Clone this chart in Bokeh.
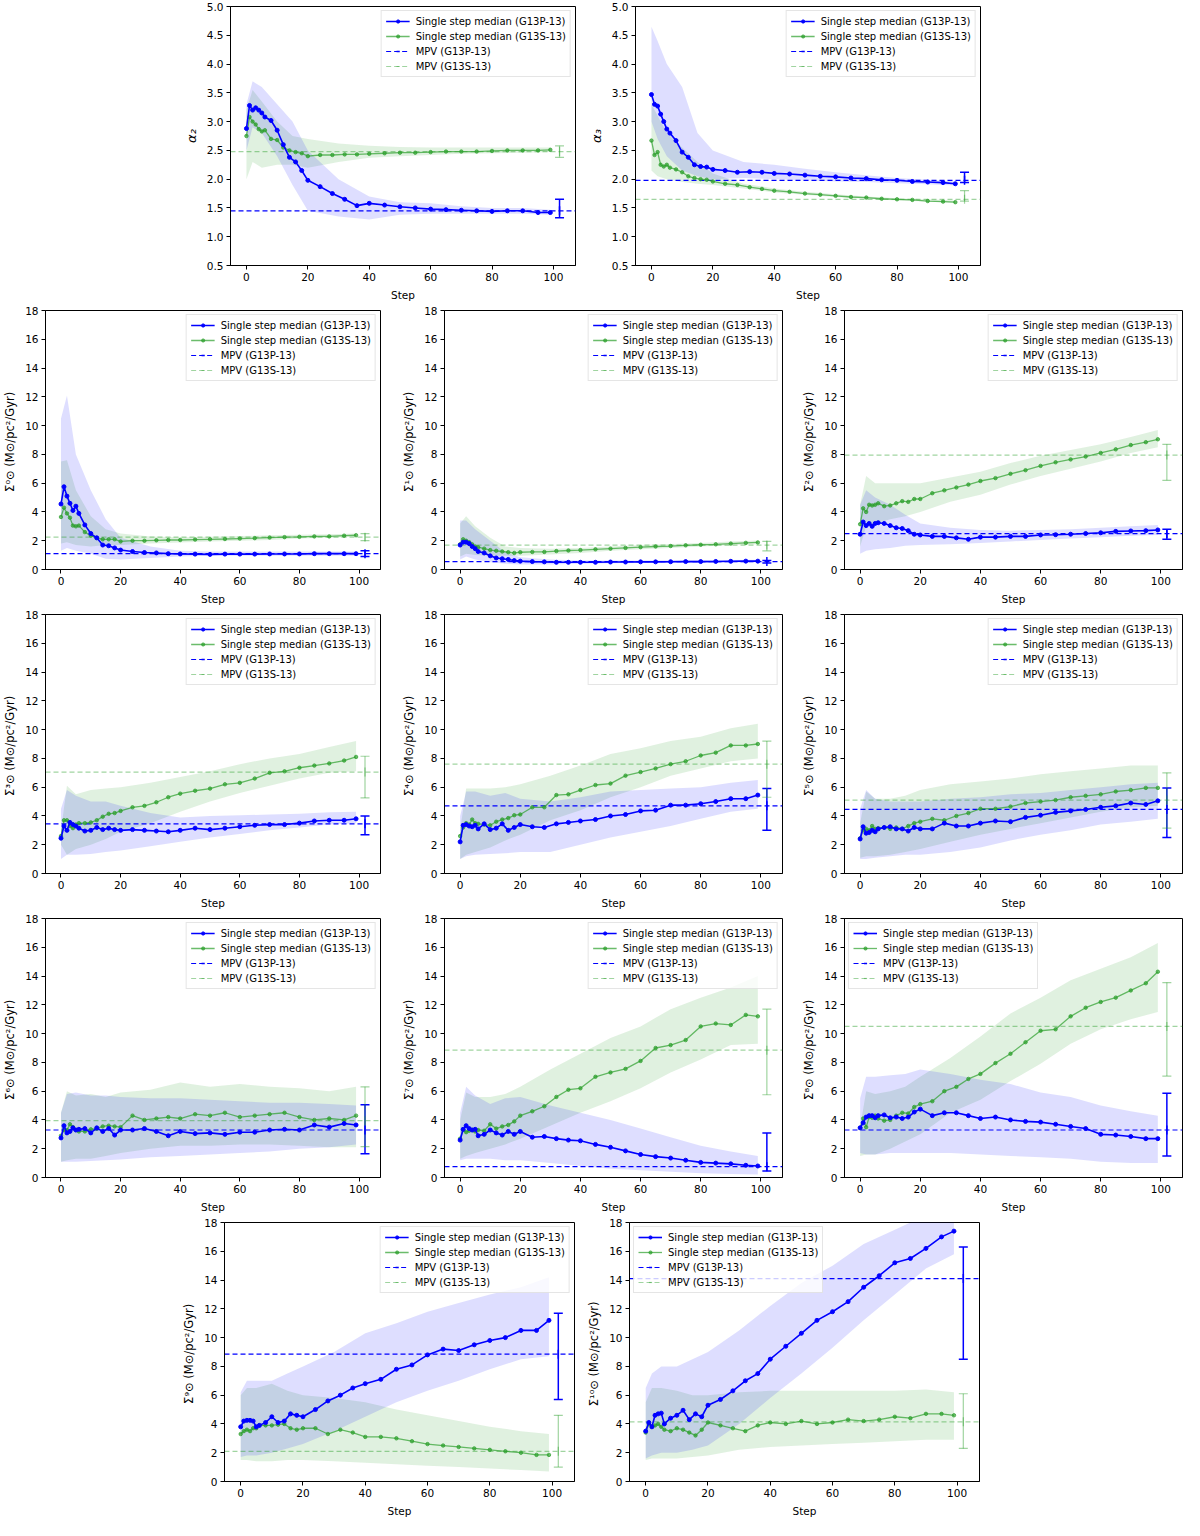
import math
from bokeh.plotting import figure
from bokeh.models import (Range1d, FixedTicker, PrintfTickFormatter, Legend, LegendItem,
                          Whisker, TeeHead, ColumnDataSource, Spacer)
from bokeh.layouts import row, column
from bokeh.embed import file_html
from bokeh.resources import INLINE

# steps at which the medians are read, and the coarser steps for the bands
STEPS = [0, 1, 2, 3, 4, 5, 6, 8, 10, 12, 14, 16, 18, 20, 24, 28, 32, 36, 40, 45,
         50, 55, 60, 65, 70, 75, 80, 85, 90, 95, 99]
BAND_STEPS = [0, 2, 5, 10, 15, 20, 30, 40, 50, 60, 70, 80, 90, 99]
X_TICKS = [0, 20, 40, 60, 80, 100]
ALPHA_TICKS = [0.5, 1.0, 1.5, 2.0, 2.5, 3.0, 3.5, 4.0, 4.5, 5.0]
SIGMA_TICKS = [0, 2, 4, 6, 8, 10, 12, 14, 16, 18]

# alpha_2
A2_P_MED = [2.88, 3.28, 3.20, 3.24, 3.20, 3.15, 3.08, 3.02, 2.85, 2.60, 2.38, 2.30, 2.15, 1.98, 1.87, 1.75,
            1.65, 1.54, 1.58, 1.55, 1.52, 1.50, 1.48, 1.47, 1.46, 1.45, 1.44, 1.45, 1.45, 1.42, 1.42]
A2_P_LO = [2.5, 2.9, 2.8, 2.4, 1.9, 1.45, 1.35, 1.3, 1.38, 1.4, 1.4, 1.4, 1.4, 1.38]
A2_P_HI = [3.3, 3.7, 3.6, 3.3, 3.0, 2.5, 2.0, 1.7, 1.6, 1.58, 1.53, 1.5, 1.5, 1.47]
A2_S_MED = [2.75, 3.08, 3.00, 2.95, 2.87, 2.83, 2.85, 2.70, 2.68, 2.55, 2.50, 2.47, 2.45, 2.40, 2.42, 2.42,
            2.43, 2.43, 2.44, 2.45, 2.46, 2.46, 2.47, 2.48, 2.48, 2.48, 2.49, 2.50, 2.50, 2.50, 2.51]
A2_S_LO = [2.0, 2.3, 2.2, 2.25, 2.25, 2.2, 2.3, 2.37, 2.4, 2.42, 2.44, 2.45, 2.46, 2.47]
A2_S_HI = [3.2, 3.55, 3.35, 3.0, 2.75, 2.7, 2.62, 2.58, 2.56, 2.55, 2.55, 2.55, 2.55, 2.55]

# alpha_3
A3_P_MED = [3.47, 3.30, 3.27, 3.13, 3.00, 2.87, 2.80, 2.67, 2.47, 2.38, 2.25, 2.22, 2.21, 2.17, 2.15, 2.12,
            2.13, 2.12, 2.10, 2.09, 2.07, 2.05, 2.04, 2.02, 2.01, 1.99, 1.98, 1.96, 1.95, 1.94, 1.92]
A3_P_LO = [3.0, 2.7, 2.4, 2.15, 2.05, 2.0, 2.02, 2.0, 1.98, 1.96, 1.95, 1.93, 1.91, 1.89]
A3_P_HI = [4.65, 4.4, 4.0, 3.6, 2.8, 2.5, 2.3, 2.25, 2.18, 2.12, 2.07, 2.02, 1.99, 1.96]
A3_S_MED = [2.67, 2.42, 2.47, 2.25, 2.22, 2.25, 2.20, 2.17, 2.12, 2.05, 2.02, 2.00, 1.99, 1.96, 1.92, 1.90,
            1.86, 1.83, 1.80, 1.78, 1.75, 1.73, 1.71, 1.69, 1.68, 1.66, 1.65, 1.64, 1.62, 1.61, 1.60]
A3_S_LO = [2.15, 2.05, 2.0, 1.95, 1.92, 1.9, 1.84, 1.77, 1.73, 1.69, 1.66, 1.63, 1.61, 1.59]
A3_S_HI = [3.3, 3.1, 2.8, 2.55, 2.3, 2.1, 1.92, 1.84, 1.78, 1.74, 1.7, 1.67, 1.65, 1.63]

# Sigma 0
S0_P_MED = [4.55, 5.75, 5.10, 4.60, 4.10, 4.40, 3.90, 3.10, 2.50, 2.20, 1.70, 1.65, 1.50, 1.35, 1.25, 1.18,
            1.15, 1.10, 1.08, 1.07, 1.05, 1.07, 1.07, 1.07, 1.08, 1.08, 1.08, 1.10, 1.10, 1.10, 1.10]
S0_P_LO = [1.3, 1.5, 1.3, 1.1, 0.75, 0.7, 0.8, 0.9, 0.95, 0.95, 0.95, 0.95, 0.95, 0.95]
S0_P_HI = [10.5, 12.1, 8.0, 5.5, 3.5, 2.2, 1.6, 1.3, 1.25, 1.25, 1.25, 1.25, 1.25, 1.25]
S0_S_MED = [3.65, 4.30, 3.90, 3.60, 3.05, 3.00, 3.05, 2.60, 2.35, 2.20, 2.10, 2.10, 2.10, 1.95, 2.00, 2.00,
            2.03, 2.05, 2.05, 2.08, 2.10, 2.12, 2.15, 2.18, 2.22, 2.25, 2.27, 2.30, 2.30, 2.35, 2.38]
S0_S_LO = [1.8, 1.9, 1.7, 1.6, 1.7, 1.7, 1.8, 1.88, 1.95, 2.0, 2.05, 2.15, 2.2, 2.27]
S0_S_HI = [7.5, 7.6, 5.5, 3.7, 2.8, 2.5, 2.3, 2.25, 2.28, 2.32, 2.38, 2.42, 2.45, 2.5]

# Sigma 1
S1_P_MED = [1.70, 1.90, 1.90, 1.80, 1.60, 1.45, 1.25, 1.15, 0.95, 0.80, 0.75, 0.70, 0.62, 0.58, 0.55, 0.53,
            0.50, 0.50, 0.50, 0.50, 0.52, 0.52, 0.53, 0.53, 0.54, 0.55, 0.55, 0.56, 0.57, 0.58, 0.58]
S1_P_LO = [0.7, 0.9, 0.7, 0.5, 0.4, 0.35, 0.35, 0.4, 0.43, 0.45, 0.46, 0.47, 0.48, 0.5]
S1_P_HI = [3.4, 3.4, 2.8, 2.0, 1.2, 0.85, 0.7, 0.62, 0.62, 0.63, 0.64, 0.65, 0.66, 0.67]
S1_S_MED = [1.75, 2.10, 2.00, 1.90, 1.75, 1.60, 1.55, 1.45, 1.35, 1.30, 1.25, 1.20, 1.15, 1.20, 1.22, 1.22,
            1.28, 1.32, 1.35, 1.40, 1.45, 1.50, 1.55, 1.60, 1.63, 1.68, 1.72, 1.75, 1.80, 1.85, 1.88]
S1_S_LO = [0.9, 1.1, 1.0, 0.95, 0.95, 0.95, 1.05, 1.15, 1.3, 1.4, 1.5, 1.6, 1.68, 1.75]
S1_S_HI = [3.2, 3.7, 3.0, 2.2, 1.6, 1.5, 1.45, 1.5, 1.6, 1.7, 1.78, 1.85, 1.95, 2.02]

# Sigma 2
S2_P_MED = [2.45, 3.30, 3.05, 3.20, 3.00, 3.20, 3.25, 3.20, 3.05, 2.90, 2.85, 2.70, 2.45, 2.40, 2.30, 2.30,
            2.20, 2.10, 2.25, 2.25, 2.30, 2.30, 2.40, 2.42, 2.45, 2.50, 2.55, 2.65, 2.68, 2.70, 2.75]
S2_P_LO = [1.1, 1.3, 1.4, 1.5, 1.65, 1.7, 1.75, 1.85, 1.95, 2.05, 2.15, 2.25, 2.35, 2.4]
S2_P_HI = [4.5, 5.5, 5.0, 4.5, 3.8, 3.2, 2.9, 2.75, 2.7, 2.75, 2.8, 2.9, 3.0, 3.1]
S2_S_MED = [3.15, 4.25, 4.00, 4.50, 4.45, 4.50, 4.60, 4.40, 4.45, 4.60, 4.75, 4.70, 4.90, 4.90, 5.30, 5.50,
            5.70, 5.90, 6.15, 6.35, 6.65, 6.90, 7.20, 7.45, 7.65, 7.85, 8.10, 8.35, 8.65, 8.85, 9.05]
S2_S_LO = [1.6, 3.0, 3.2, 3.5, 3.7, 4.0, 4.7, 5.2, 5.9, 6.5, 7.0, 7.5, 8.1, 8.5]
S2_S_HI = [4.5, 6.5, 6.0, 6.0, 6.0, 6.0, 6.4, 6.8, 7.4, 7.9, 8.3, 8.7, 9.2, 9.7]

# Sigma 3
S3_P_MED = [2.45, 3.30, 3.00, 3.55, 3.40, 3.30, 3.15, 2.95, 3.00, 3.20, 3.05, 3.15, 3.05, 3.00, 3.05, 3.00,
            2.95, 2.90, 3.00, 3.15, 3.05, 3.15, 3.25, 3.35, 3.40, 3.40, 3.50, 3.65, 3.70, 3.70, 3.80]
S3_P_LO = [1.0, 1.3, 1.3, 1.35, 1.5, 1.6, 1.9, 2.2, 2.5, 2.75, 3.0, 3.2, 3.4, 3.5]
S3_P_HI = [4.5, 5.8, 5.4, 5.0, 5.0, 4.7, 4.2, 3.9, 4.0, 4.05, 4.1, 4.15, 4.25, 4.3]
S3_S_MED = [2.60, 3.70, 3.70, 3.30, 3.15, 3.40, 3.50, 3.50, 3.55, 3.70, 3.95, 4.15, 4.20, 4.35, 4.60, 4.70,
            4.95, 5.30, 5.55, 5.75, 5.90, 6.20, 6.30, 6.60, 7.00, 7.10, 7.35, 7.50, 7.65, 7.85, 8.10]
S3_S_LO = [2.0, 1.3, 1.7, 2.0, 2.4, 2.9, 3.5, 4.3, 5.0, 5.6, 6.1, 6.6, 7.0, 7.1]
S3_S_HI = [3.0, 6.1, 5.5, 5.8, 5.9, 6.0, 6.3, 6.7, 7.1, 7.6, 8.0, 8.3, 8.8, 9.2]

# Sigma 4
S4_P_MED = [2.20, 3.35, 3.40, 3.30, 3.25, 3.35, 3.10, 3.45, 3.05, 3.15, 3.45, 3.00, 3.20, 3.40, 3.25, 3.20,
            3.45, 3.55, 3.65, 3.75, 4.00, 4.10, 4.35, 4.40, 4.75, 4.75, 4.85, 5.00, 5.20, 5.20, 5.45]
S4_P_LO = [1.0, 1.2, 1.3, 1.35, 1.4, 1.5, 1.5, 2.0, 2.5, 2.9, 3.3, 3.8, 4.3, 4.5]
S4_P_HI = [4.0, 5.7, 5.7, 5.4, 5.6, 5.2, 5.0, 5.3, 5.7, 5.8, 5.9, 6.0, 6.3, 6.5]
S4_S_MED = [2.60, 3.20, 3.50, 3.40, 3.75, 3.50, 3.45, 3.40, 3.35, 3.60, 3.75, 3.85, 4.05, 4.10, 4.60, 4.60,
            5.45, 5.50, 5.80, 6.15, 6.25, 6.80, 7.05, 7.30, 7.60, 7.80, 8.20, 8.40, 8.90, 8.90, 9.00]
S4_S_LO = [1.0, 1.3, 1.5, 1.8, 2.3, 2.7, 3.7, 4.4, 5.3, 6.0, 6.8, 7.3, 7.8, 8.0]
S4_S_HI = [3.0, 5.9, 5.9, 5.9, 6.0, 6.2, 6.8, 7.5, 8.3, 8.7, 9.2, 9.5, 10.1, 10.4]

# Sigma 5
S5_P_MED = [2.40, 3.25, 2.80, 2.85, 3.00, 2.90, 3.10, 3.20, 3.25, 3.10, 3.10, 2.95, 3.20, 3.10, 3.10, 3.50,
            3.30, 3.30, 3.50, 3.65, 3.60, 3.90, 4.05, 4.25, 4.35, 4.45, 4.60, 4.70, 4.90, 4.80, 5.05]
S5_P_LO = [1.0, 1.0, 1.1, 1.2, 1.3, 1.3, 1.5, 1.8, 2.3, 2.7, 3.0, 3.4, 3.6, 3.8]
S5_P_HI = [4.5, 5.8, 5.2, 5.0, 5.0, 5.0, 5.2, 5.3, 5.5, 5.6, 5.8, 6.0, 6.2, 6.3]
S5_S_MED = [2.45, 3.00, 3.10, 3.00, 3.30, 3.10, 3.15, 3.20, 3.10, 3.20, 3.10, 3.30, 3.50, 3.60, 3.80, 3.70,
            4.00, 4.20, 4.50, 4.50, 4.65, 4.90, 5.00, 5.10, 5.30, 5.40, 5.50, 5.70, 5.80, 5.95, 5.95]
S5_S_LO = [1.1, 1.2, 1.2, 1.3, 1.5, 1.7, 2.2, 2.7, 3.1, 3.5, 3.9, 4.3, 4.6, 4.7]
S5_S_HI = [3.5, 5.7, 5.2, 5.2, 5.4, 5.8, 6.2, 6.4, 6.6, 6.9, 7.1, 7.3, 7.5, 7.5]

# Sigma 6
S6_P_MED = [2.75, 3.60, 3.10, 3.20, 3.45, 3.30, 3.35, 3.40, 3.10, 3.45, 3.20, 3.40, 2.95, 3.30, 3.30, 3.40,
            3.20, 2.90, 3.20, 3.05, 3.10, 3.00, 3.15, 3.15, 3.30, 3.35, 3.30, 3.65, 3.50, 3.75, 3.65]
S6_P_LO = [1.1, 1.1, 1.1, 1.15, 1.2, 1.25, 1.4, 1.5, 1.6, 1.7, 1.8, 2.0, 2.1, 2.3]
S6_P_HI = [4.5, 5.8, 5.9, 5.7, 5.7, 5.6, 5.5, 5.5, 5.4, 5.3, 5.2, 5.2, 5.1, 5.0]
S6_S_MED = [2.90, 3.30, 3.30, 3.70, 3.50, 3.30, 3.20, 3.20, 3.35, 3.40, 3.55, 3.60, 3.55, 3.50, 4.30, 4.00,
            4.10, 4.20, 4.10, 4.40, 4.30, 4.50, 4.20, 4.30, 4.40, 4.50, 4.20, 4.00, 4.10, 4.00, 4.30]
S6_S_LO = [1.1, 1.2, 1.3, 1.3, 1.5, 1.7, 2.0, 2.2, 2.2, 2.3, 2.3, 2.2, 2.1, 2.1]
S6_S_HI = [4.5, 6.0, 5.7, 5.8, 5.6, 5.9, 6.1, 6.6, 6.3, 6.5, 6.3, 6.2, 6.0, 6.3]

# Sigma 7
S7_P_MED = [2.60, 3.35, 3.60, 3.40, 3.30, 3.35, 2.90, 3.00, 3.30, 3.10, 2.95, 3.20, 3.00, 3.20, 2.80, 2.85,
            2.70, 2.60, 2.55, 2.30, 2.10, 1.85, 1.60, 1.45, 1.35, 1.20, 1.05, 1.00, 0.95, 0.85, 0.80]
S7_P_LO = [1.2, 1.3, 1.3, 1.3, 1.2, 1.2, 1.0, 0.8, 0.6, 0.5, 0.4, 0.3, 0.25, 0.2]
S7_P_HI = [4.5, 6.3, 5.7, 5.1, 5.5, 5.6, 5.0, 4.5, 4.0, 3.4, 2.8, 2.2, 1.8, 1.5]
S7_S_MED = [2.70, 3.30, 3.15, 3.25, 3.30, 3.20, 3.30, 3.25, 3.70, 3.40, 3.55, 3.65, 3.90, 4.30, 4.60, 4.95,
            5.60, 6.10, 6.20, 7.00, 7.30, 7.55, 8.10, 9.00, 9.20, 9.55, 10.50, 10.70, 10.60, 11.30, 11.20]
S7_S_LO = [1.3, 1.5, 1.7, 2.0, 2.3, 2.7, 3.6, 4.5, 5.3, 6.2, 7.3, 8.2, 9.2, 9.3]
S7_S_HI = [4.0, 5.9, 5.6, 5.6, 5.8, 6.3, 7.5, 8.6, 9.7, 10.5, 11.7, 12.5, 13.2, 14.0]

# Sigma 8
S8_P_MED = [3.45, 3.80, 4.20, 4.30, 4.30, 4.15, 4.30, 4.35, 4.15, 4.20, 4.10, 4.20, 4.55, 4.75, 4.30, 4.50,
            4.50, 4.30, 4.10, 4.20, 4.00, 3.90, 3.85, 3.70, 3.55, 3.40, 3.00, 2.95, 2.85, 2.70, 2.70]
S8_P_LO = [1.7, 1.6, 1.6, 1.7, 1.7, 1.7, 1.7, 1.6, 1.5, 1.4, 1.3, 1.1, 1.0, 1.0]
S8_P_HI = [5.5, 7.0, 7.0, 7.1, 7.2, 7.5, 7.2, 6.8, 6.5, 5.9, 5.6, 5.0, 4.6, 4.3]
S8_S_MED = [3.45, 4.10, 3.50, 4.20, 4.15, 4.30, 4.10, 3.95, 4.00, 4.30, 4.50, 4.45, 4.90, 5.10, 5.30, 6.00,
            6.30, 6.85, 7.20, 7.95, 8.60, 9.40, 10.20, 10.30, 11.20, 11.80, 12.20, 12.50, 13.00, 13.50, 14.30]
S8_S_LO = [1.5, 1.6, 1.6, 2.0, 2.5, 3.0, 4.5, 5.4, 6.7, 7.9, 9.3, 10.3, 11.0, 11.5]
S8_S_HI = [3.5, 6.0, 5.8, 6.0, 6.3, 7.0, 8.3, 9.8, 11.4, 12.5, 13.7, 14.5, 15.3, 16.3]

# Sigma 9
S9_P_MED = [3.80, 4.20, 4.25, 4.25, 4.20, 3.80, 3.90, 4.10, 4.50, 4.10, 4.20, 4.70, 4.60, 4.50, 5.00, 5.60,
            6.00, 6.50, 6.80, 7.10, 7.80, 8.10, 8.80, 9.20, 9.10, 9.50, 9.80, 10.00, 10.50, 10.50, 11.20]
S9_P_LO = [1.7, 1.8, 1.8, 2.0, 2.3, 2.6, 3.5, 4.5, 5.5, 6.3, 7.0, 7.8, 8.5, 8.7]
S9_P_HI = [6.2, 7.0, 7.0, 7.0, 7.5, 8.0, 9.0, 10.3, 11.0, 11.8, 12.4, 13.0, 13.5, 14.2]
S9_S_MED = [3.30, 3.50, 3.60, 3.50, 3.70, 3.70, 3.90, 3.90, 3.90, 3.95, 4.00, 3.70, 3.60, 3.70, 3.70, 3.30,
            3.60, 3.40, 3.10, 3.10, 3.00, 2.80, 2.60, 2.50, 2.40, 2.30, 2.20, 2.10, 2.00, 1.85, 1.85]
S9_S_LO = [1.5, 1.5, 1.4, 1.4, 1.5, 1.5, 1.4, 1.3, 1.2, 1.1, 1.0, 0.9, 0.8, 0.7]
S9_S_HI = [6.0, 6.5, 6.5, 6.8, 6.3, 6.0, 5.8, 5.5, 5.0, 4.6, 4.2, 3.8, 3.5, 3.3]

# Sigma 10
S10_P_MED = [3.50, 4.10, 3.80, 4.60, 4.70, 4.75, 4.00, 4.40, 4.60, 4.95, 4.30, 4.70, 4.50, 5.30, 5.70, 6.30,
             7.00, 7.50, 8.50, 9.40, 10.30, 11.20, 11.80, 12.50, 13.50, 14.30, 15.20, 15.50, 16.20, 17.00, 17.40]
S10_P_LO = [1.6, 1.8, 2.0, 2.0, 2.2, 2.5, 4.0, 5.8, 7.5, 9.3, 11.2, 13.0, 14.8, 15.8]
S10_P_HI = [6.5, 7.5, 8.0, 8.0, 8.5, 9.0, 10.5, 12.2, 13.8, 15.0, 16.5, 17.5, 18.5, 18.3]
S10_S_MED = [3.40, 4.00, 3.80, 3.90, 4.00, 3.80, 3.60, 3.50, 3.70, 3.60, 3.40, 3.20, 3.60, 4.10, 3.90, 3.70,
             3.50, 3.90, 4.10, 4.00, 4.20, 4.00, 4.10, 4.30, 4.20, 4.30, 4.50, 4.40, 4.70, 4.70, 4.60]
S10_S_LO = [1.5, 1.6, 1.6, 1.6, 1.7, 1.8, 2.2, 2.4, 2.5, 2.6, 2.7, 2.8, 2.9, 2.9]
S10_S_HI = [5.5, 6.5, 6.5, 6.3, 6.0, 6.0, 6.2, 6.3, 6.3, 6.3, 6.3, 6.3, 6.4, 6.2]

# most probable values, panel order: a2, a3, S0 .. S10
MPV_P = [1.45, 1.98, 1.10, 0.55, 2.50, 3.45, 4.70, 4.45, 3.30, 0.75, 3.30, 8.85, 14.10]
MPV_P_LO = [1.33, 1.94, 0.90, 0.45, 2.10, 2.70, 3.00, 2.50, 1.65, 0.45, 1.50, 5.70, 8.50]
MPV_P_HI = [1.65, 2.12, 1.30, 0.62, 2.80, 4.00, 5.90, 5.95, 5.05, 3.10, 5.85, 11.70, 16.30]
MPV_S = [2.48, 1.65, 2.25, 1.70, 7.95, 7.05, 7.60, 5.10, 3.95, 8.85, 10.50, 2.10, 4.15]
MPV_S_LO = [2.38, 1.62, 2.00, 1.30, 6.20, 5.25, 5.30, 3.15, 2.15, 5.75, 7.05, 1.00, 2.30]
MPV_S_HI = [2.58, 1.80, 2.50, 1.95, 8.70, 8.15, 9.20, 7.00, 6.30, 11.70, 13.55, 4.60, 6.10]

UNIT = "  (M⊙/pc²/Gyr)"
Y_LABELS = ["α₂", "α₃", "Σ⁰⊙" + UNIT, "Σ¹⊙" + UNIT, "Σ²⊙" + UNIT, "Σ³⊙" + UNIT, "Σ⁴⊙" + UNIT,
            "Σ⁵⊙" + UNIT, "Σ⁶⊙" + UNIT, "Σ⁷⊙" + UNIT, "Σ⁸⊙" + UNIT, "Σ⁹⊙" + UNIT, "Σ¹⁰⊙" + UNIT]
LEGEND_LABELS = ["Single step median (G13P-13)", "Single step median (G13S-13)",
                 "MPV (G13P-13)", "MPV (G13S-13)"]

BLUE = "#0000ff"
GREEN = "#2ca02c"
FONT = "DejaVu Sans"
X_LO, X_HI = -5.2, 107.2
MPV_X = 102
TOP, FRAME_H, BOTTOM = 6, 259, 39


def style_axes(p):
    for ax in (p.xaxis[0], p.yaxis[0]):
        ax.axis_line_color = "black"
        ax.major_tick_line_color = "black"
        ax.major_tick_out = 4
        ax.major_tick_in = 0
        ax.minor_tick_line_color = None
        ax.major_label_text_font = FONT
        ax.major_label_text_font_size = "10.5px"
        ax.major_label_text_color = "black"
        ax.major_label_standoff = 3
        ax.axis_label_text_font = FONT
        ax.axis_label_text_font_size = "10.5px"
        ax.axis_label_text_font_style = "normal"
        ax.axis_label_text_color = "black"
        ax.axis_label_standoff = 5


def errorbar(p, i, mid, lo, hi, color, alpha, width):
    src = ColumnDataSource(data=dict(x=[MPV_X], y=[mid[i]], lo=[lo[i]], hi=[hi[i]]))
    w = Whisker(source=src, base="x", lower="lo", upper="hi", dimension="height",
                line_color=color, line_alpha=alpha, line_width=width,
                upper_head=TeeHead(size=9, line_color=color, line_alpha=alpha, line_width=width),
                lower_head=TeeHead(size=9, line_color=color, line_alpha=alpha, line_width=width))
    p.add_layout(w)
    # short vertical tick at the centre, so that the legend shows the bar
    return p.scatter("x", "y", source=src, marker="dash", angle=math.pi / 2, size=9,
                     line_color=color, line_alpha=alpha, line_width=width)


def make_panel(i, series, left, frame_w, right, legend_loc="top_right"):
    p_med, p_lo, p_hi, s_med, s_lo, s_hi = series
    is_alpha = i < 2
    y_lo, y_hi = (0.5, 5.0) if is_alpha else (0, 18)
    p = figure(width=left + frame_w + right, height=TOP + FRAME_H + BOTTOM,
               x_range=Range1d(X_LO, X_HI), y_range=Range1d(y_lo, y_hi),
               min_border_left=left, min_border_right=right,
               min_border_top=TOP, min_border_bottom=BOTTOM,
               output_backend="svg", toolbar_location=None)
    p.xgrid.visible = False
    p.ygrid.visible = False
    p.outline_line_color = "black"
    p.outline_line_alpha = 1.0
    p.background_fill_color = "white"
    p.border_fill_color = "white"

    p.varea(x=BAND_STEPS, y1=s_lo, y2=s_hi, fill_color=GREEN, fill_alpha=0.15)
    p.varea(x=BAND_STEPS, y1=p_lo, y2=p_hi, fill_color=BLUE, fill_alpha=0.13)

    hp = p.line([X_LO, X_HI], [MPV_P[i], MPV_P[i]], line_color=BLUE, line_width=1.2, line_dash="5 3")
    hs = p.line([X_LO, X_HI], [MPV_S[i], MPV_S[i]], line_color=GREEN, line_alpha=0.45,
                line_width=1.2, line_dash="5 3")
    vp = errorbar(p, i, MPV_P, MPV_P_LO, MPV_P_HI, BLUE, 1.0, 1.5)
    vs = errorbar(p, i, MPV_S, MPV_S_LO, MPV_S_HI, GREEN, 0.45, 1.2)

    ls = p.line(STEPS, s_med, line_color=GREEN, line_alpha=0.7, line_width=1.3)
    ms = p.scatter(STEPS, s_med, size=3.5, fill_color=GREEN, line_color=GREEN, alpha=0.7)
    lp = p.line(STEPS, p_med, line_color=BLUE, line_width=1.6)
    mp = p.scatter(STEPS, p_med, size=4, fill_color=BLUE, line_color=BLUE)

    legend = Legend(items=[LegendItem(label=LEGEND_LABELS[0], renderers=[lp, mp]),
                           LegendItem(label=LEGEND_LABELS[1], renderers=[ls, ms]),
                           LegendItem(label=LEGEND_LABELS[2], renderers=[hp, vp]),
                           LegendItem(label=LEGEND_LABELS[3], renderers=[hs, vs])],
                    location=legend_loc, margin=4, padding=4, spacing=3,
                    glyph_width=24, glyph_height=8, label_height=12, label_standoff=6,
                    label_text_font=FONT, label_text_font_size="10px", label_text_color="black",
                    border_line_color="#cccccc", border_line_width=1,
                    background_fill_color="white", background_fill_alpha=0.8)
    p.add_layout(legend)

    style_axes(p)
    p.xaxis.ticker = FixedTicker(ticks=X_TICKS)
    p.xaxis.axis_label = "Step"
    p.yaxis.axis_label = Y_LABELS[i]
    if is_alpha:
        p.yaxis.ticker = FixedTicker(ticks=ALPHA_TICKS)
        p.yaxis.formatter = PrintfTickFormatter(format="%.1f")
        p.yaxis.axis_label_text_font_style = "italic"
        p.yaxis.axis_label_text_font_size = "13px"
    else:
        p.yaxis.ticker = FixedTicker(ticks=SIGMA_TICKS)
        p.yaxis.axis_label_text_font_size = "11.5px"
    return p


SERIES = [
    (A2_P_MED, A2_P_LO, A2_P_HI, A2_S_MED, A2_S_LO, A2_S_HI),
    (A3_P_MED, A3_P_LO, A3_P_HI, A3_S_MED, A3_S_LO, A3_S_HI),
    (S0_P_MED, S0_P_LO, S0_P_HI, S0_S_MED, S0_S_LO, S0_S_HI),
    (S1_P_MED, S1_P_LO, S1_P_HI, S1_S_MED, S1_S_LO, S1_S_HI),
    (S2_P_MED, S2_P_LO, S2_P_HI, S2_S_MED, S2_S_LO, S2_S_HI),
    (S3_P_MED, S3_P_LO, S3_P_HI, S3_S_MED, S3_S_LO, S3_S_HI),
    (S4_P_MED, S4_P_LO, S4_P_HI, S4_S_MED, S4_S_LO, S4_S_HI),
    (S5_P_MED, S5_P_LO, S5_P_HI, S5_S_MED, S5_S_LO, S5_S_HI),
    (S6_P_MED, S6_P_LO, S6_P_HI, S6_S_MED, S6_S_LO, S6_S_HI),
    (S7_P_MED, S7_P_LO, S7_P_HI, S7_S_MED, S7_S_LO, S7_S_HI),
    (S8_P_MED, S8_P_LO, S8_P_HI, S8_S_MED, S8_S_LO, S8_S_HI),
    (S9_P_MED, S9_P_LO, S9_P_HI, S9_S_MED, S9_S_LO, S9_S_HI),
    (S10_P_MED, S10_P_LO, S10_P_HI, S10_S_MED, S10_S_LO, S10_S_HI),
]

# three-panel rows: (left border, frame width, right border)
TRIPLE = [(42, 338, 14), (50, 338, 12), (50, 338, 2)]

r1 = row(Spacer(width=180, height=TOP + FRAME_H + BOTTOM),
         make_panel(0, SERIES[0], 50, 345, 10),
         make_panel(1, SERIES[1], 50, 345, 10))
rows = [r1]
for start in (2, 5, 8):
    figs = []
    for k in range(3):
        i = start + k
        loc = "top_left" if i == 10 else "top_right"
        l, fw, r = TRIPLE[k]
        figs.append(make_panel(i, SERIES[i], l, fw, r, loc))
    rows.append(row(*figs))
r5 = row(Spacer(width=174, height=TOP + FRAME_H + BOTTOM),
         make_panel(11, SERIES[11], 50, 350, 5),
         make_panel(12, SERIES[12], 50, 350, 10, "top_left"))
rows.append(r5)

layout = column(*rows)
open("out.html", "w").write(file_html(layout, INLINE))
